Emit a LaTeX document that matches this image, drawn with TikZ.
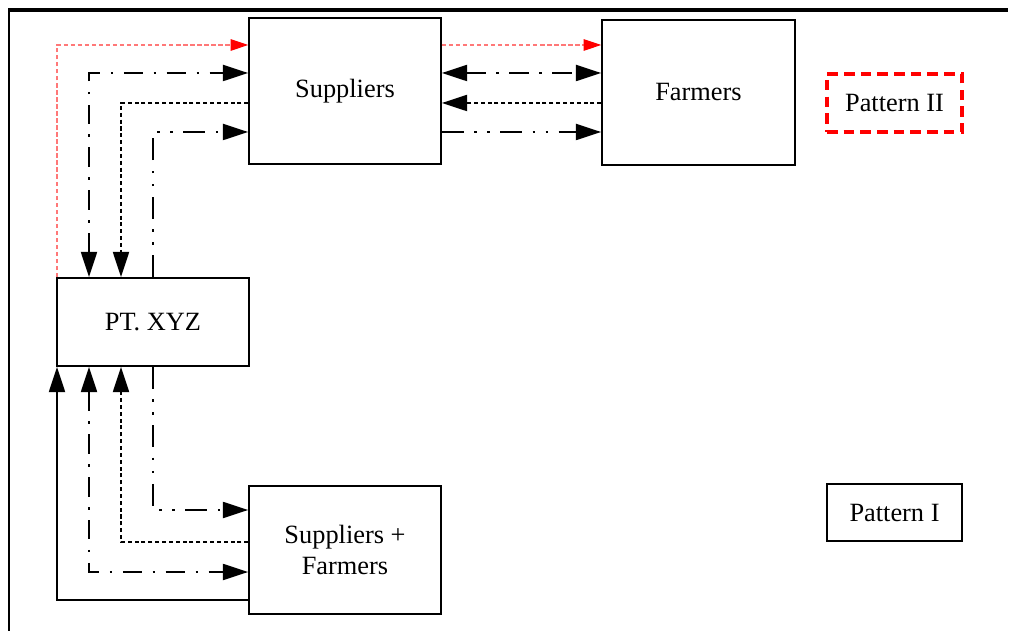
\documentclass[tikz,border=0pt]{standalone}
\usepackage{fontspec}
\setmainfont{Liberation Serif}
\usepackage{tikz}
\usetikzlibrary{arrows.meta}

\definecolor{lightred}{RGB}{255,120,120}

\tikzset{
	box/.style={draw, line width=0.85pt, align=center, inner sep=0pt},
	bigtip/.style={-{Triangle[length=14.5pt,width=9pt]}},
	bothtip/.style={{Triangle[length=14.5pt,width=9pt]}-{Triangle[length=14.5pt,width=9pt]}},
	dashdot/.style={line width=1.6pt, dash pattern=on 11pt off 6pt on 1.4pt off 6pt},
	dashdotdot/.style={line width=1.6pt, dash pattern=on 12.5pt off 6pt on 1.4pt off 6pt on 1.4pt off 6pt},
	dotline/.style={line width=1.6pt, dash pattern=on 2.3pt off 1.6pt},
	solidline/.style={line width=1.6pt},
	pinkline/.style={line width=0.65pt, draw=lightred, dash pattern=on 2.5pt off 1.5pt,
		-{Triangle[length=10pt,width=6.5pt,red]}}
}

\begin{document}
\begin{tikzpicture}[x=0.02cm, y=-0.02cm, font=\fontsize{15}{17.5}\selectfont]
			\useasboundingbox (0,0) rectangle (1014,631);
			% frame
			\draw[line width=2.4pt] (8,10) -- (1008,10);
			\draw[line width=0.8pt] (9,10) -- (9,631);

			% boxes
			\node[box, minimum width=3.84cm, minimum height=2.92cm] (sup) at (345,91) {Suppliers};
			\node[box, minimum width=3.86cm, minimum height=2.9cm] (farm) at (698.5,92.5) {Farmers};
			\node[box, minimum width=3.84cm, minimum height=1.76cm] (pt) at (153,322) {PT. XYZ};
			\node[box, minimum width=3.84cm, minimum height=2.56cm] (sf) at (345,550) {Suppliers +\\Farmers};
			\node[box, draw=red, line width=1.9pt, dash pattern=on 6pt off 3.5pt,
				minimum width=2.7cm, minimum height=1.16cm] (p2) at (894.5,103) {Pattern II};
			\node[box, minimum width=2.7cm, minimum height=1.14cm] (p1) at (894.5,512.5) {Pattern I};

			% lanes
			\coordinate (ra) at (0,45);
			\coordinate (rb) at (0,73);
			\coordinate (rc) at (0,103);
			\coordinate (rd) at (0,132);
			\coordinate (re) at (0,510);
			\coordinate (rf) at (0,542);
			\coordinate (rg) at (0,572);
			\coordinate (rh) at (0,600);
			\coordinate (la) at (57,0);
			\coordinate (lb) at (89,0);
			\coordinate (lc) at (121,0);
			\coordinate (ld) at (153,0);

			% PT. XYZ -- Suppliers
			\draw[pinkline] (pt.north -| la) |- (sup.west |- ra);
			\draw[dashdot, bothtip] (pt.north -| lb) |- (sup.west |- rb);
			\draw[dotline, bigtip] (sup.west |- rc) -| (pt.north -| lc);
			\draw[dashdotdot, bigtip] (pt.north -| ld) |- (sup.west |- rd);

			% Suppliers -- Farmers
			\draw[pinkline] (sup.east |- ra) -- (farm.west |- ra);
			\draw[dashdot, bothtip] (sup.east |- rb) -- (farm.west |- rb);
			\draw[dotline, bigtip] (farm.west |- rc) -- (sup.east |- rc);
			\draw[dashdotdot, bigtip] (sup.east |- rd) -- (farm.west |- rd);

			% PT. XYZ -- Suppliers + Farmers
			\draw[solidline, bigtip] (sf.west |- rh) -| (pt.south -| la);
			\draw[dashdot, bothtip] (pt.south -| lb) |- (sf.west |- rg);
			\draw[dotline, bigtip] (sf.west |- rf) -| (pt.south -| lc);
			\draw[dashdotdot, bigtip] (pt.south -| ld) |- (sf.west |- re);
		\end{tikzpicture}
\end{document}
